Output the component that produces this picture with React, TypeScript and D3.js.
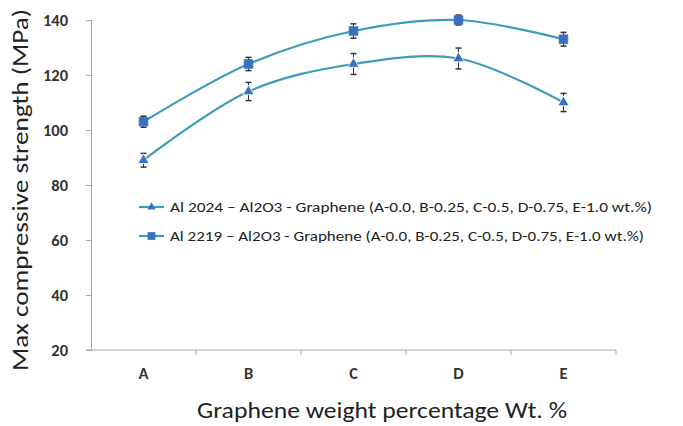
import * as d3 from 'd3';
import {useEffect, useRef} from 'react';

const categories = ['A', 'B', 'C', 'D', 'E'];
const al2024 = [89, 114, 124, 126, 110];
const al2024Err = [2.5, 3.3, 3.8, 3.8, 3.3];
const al2219 = [103, 124, 136, 140, 133];
const al2219Err = [2, 2.4, 2.6, 1.8, 2.5];
const yTicks = [20, 40, 60, 80, 100, 120, 140];
const legendLabels = [
  'Al 2024 \u2013  Al2O3 - Graphene (A-0.0, B-0.25, C-0.5, D-0.75, E-1.0 wt.%)',
  'Al 2219 \u2013 Al2O3 - Graphene (A-0.0, B-0.25, C-0.5, D-0.75, E-1.0 wt.%)',
];

const width = 683;
const height = 426;
const margin = {left: 91, right: 67, top: 20, bottom: 76};
const lineColor = '#3c9db8';
const markColor = '#3b6fc2';
const font = 'Calibri, Carlito, Lato, sans-serif';

function App() {
  const ref = useRef<SVGSVGElement>(null);

  useEffect(() => {
    const svg = d3.select(ref.current);
    svg.selectAll('*').remove();

    const x = d3
      .scaleBand()
      .domain(categories)
      .range([margin.left, width - margin.right]);
    const y = d3
      .scaleLinear()
      .domain([20, 140])
      .range([height - margin.bottom, margin.top]);
    const cx = (i: number) => x(categories[i])! + x.bandwidth() / 2;

    // y axis
    const yAxis = d3
      .axisLeft(y)
      .tickValues(yTicks)
      .tickSize(5)
      .tickPadding(18)
      .tickFormat(d => String(d));
    const gy = svg
      .append('g')
      .attr('transform', `translate(${margin.left},0)`)
      .call(yAxis);
    gy.selectAll('line, path').attr('stroke', '#a6a6a6');
    gy.selectAll('text')
      .attr('font-family', font)
      .attr('font-size', 16.5)
      .attr('font-weight', 'bold')
      .attr('fill', '#333');

    // x axis with ticks at band edges
    const gx = svg
      .append('g')
      .attr('transform', `translate(0,${height - margin.bottom})`);
    gx.append('line')
      .attr('x1', margin.left - 5)
      .attr('x2', width - margin.right)
      .attr('stroke', '#a6a6a6');
    gx.selectAll('line.tk')
      .data(categories)
      .join('line')
      .attr('class', 'tk')
      .attr('x1', d => x(d)! + x.bandwidth())
      .attr('x2', d => x(d)! + x.bandwidth())
      .attr('y2', 5)
      .attr('stroke', '#a6a6a6');
    gx.selectAll('text')
      .data(categories)
      .join('text')
      .attr('x', d => x(d)! + x.bandwidth() / 2)
      .attr('y', 29)
      .attr('text-anchor', 'middle')
      .attr('font-family', font)
      .attr('font-size', 16.5)
      .attr('font-weight', 'bold')
      .attr('fill', '#333')
      .text(d => d);

    // titles
    svg
      .append('text')
      .attr('x', 382)
      .attr('y', 418)
      .attr('text-anchor', 'middle')
      .attr('font-family', font)
      .attr('font-size', 23)
      .attr('fill', '#222')
      .attr('textLength', 370)
      .attr('lengthAdjust', 'spacingAndGlyphs')
      .text('Graphene weight percentage Wt. %');
    svg
      .append('text')
      .attr('transform', `translate(28,190) rotate(-90)`)
      .attr('text-anchor', 'middle')
      .attr('font-family', font)
      .attr('font-size', 23)
      .attr('fill', '#222')
      .attr('textLength', 362)
      .attr('lengthAdjust', 'spacingAndGlyphs')
      .text('Max compressive strength (MPa)');

    const line = d3
      .line<number>()
      .x((d, i) => cx(i))
      .y(d => y(d))
      .curve(d3.curveCatmullRom.alpha(0.5));

    const series = [
      {vals: al2024, err: al2024Err, shape: d3.symbolTriangle, size: 55},
      {vals: al2219, err: al2219Err, shape: d3.symbolSquare, size: 75},
    ];

    series.forEach(s => {
      svg
        .append('path')
        .datum(s.vals)
        .attr('fill', 'none')
        .attr('stroke', lineColor)
        .attr('stroke-width', 2.2)
        .attr('d', line);

      const eb = svg.append('g').attr('stroke', '#333').attr('stroke-width', 1);
      s.vals.forEach((v, i) => {
        const top = y(v + s.err[i]);
        const bot = y(v - s.err[i]);
        eb.append('line').attr('x1', cx(i)).attr('x2', cx(i)).attr('y1', top).attr('y2', bot);
        eb.append('line').attr('x1', cx(i) - 3).attr('x2', cx(i) + 3).attr('y1', top).attr('y2', top).attr('stroke-width', 1.5);
        eb.append('line').attr('x1', cx(i) - 3).attr('x2', cx(i) + 3).attr('y1', bot).attr('y2', bot).attr('stroke-width', 1.5);
      });

      svg
        .append('g')
        .selectAll('path')
        .data(s.vals)
        .join('path')
        .attr('transform', (d, i) => `translate(${cx(i)},${y(d)})`)
        .attr('d', d3.symbol().type(s.shape).size(s.size)())
        .attr('fill', markColor)
        .attr('stroke', s.shape === d3.symbolTriangle ? '#fff' : markColor)
        .attr('stroke-width', 0.8);
    });

    // legend
    const lg = svg.append('g');
    legendLabels.forEach((lab, i) => {
      const ly = 207 + i * 29;
      lg.append('line')
        .attr('x1', 139)
        .attr('x2', 164)
        .attr('y1', ly)
        .attr('y2', ly)
        .attr('stroke', lineColor)
        .attr('stroke-width', 2.2);
      lg.append('path')
        .attr('transform', `translate(151.5,${ly})`)
        .attr('d', d3.symbol().type(series[i].shape).size(i === 0 ? 30 : 60)())
        .attr('fill', markColor);
      lg.append('text')
        .attr('x', 170)
        .attr('y', ly + 5)
        .attr('font-family', font)
        .attr('font-size', 14)
        .attr('fill', '#222')
        .attr('textLength', i === 0 ? 482 : 474)
        .attr('lengthAdjust', 'spacingAndGlyphs')
        .text(lab);
    });
  }, []);

  return (
    <svg
      ref={ref}
      width={width}
      height={height}
      style={{position: 'absolute', left: 0, top: 0, background: '#fff'}}
    />
  );
}

export default App;
